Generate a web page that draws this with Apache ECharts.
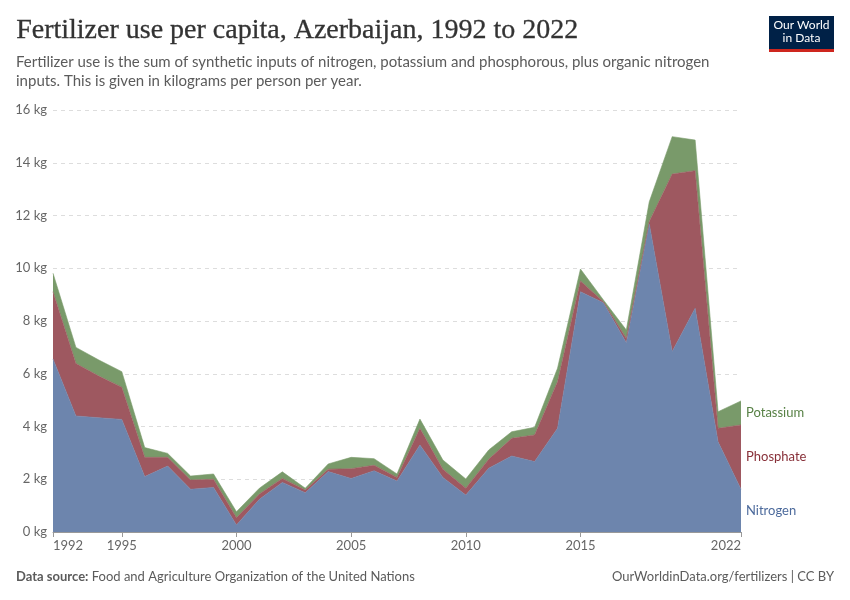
<!DOCTYPE html>
<html>
<head>
<meta charset="utf-8">
<script src="https://cdn.jsdelivr.net/npm/echarts@6/dist/echarts.min.js"></script>
<style>
  html, body { margin: 0; padding: 0; background: #fff; }
  #main { width: 850px; height: 600px; }
</style>
</head>
<body>
<div id="main"></div>
<script>
var years = [1992, 1993, 1994, 1995, 1996, 1997, 1998, 1999, 2000, 2001,
             2002, 2003, 2004, 2005, 2006, 2007, 2008, 2009, 2010, 2011,
             2012, 2013, 2014, 2015, 2016, 2017, 2018, 2019, 2020, 2021, 2022];
var nitrogen = [6.56, 4.40, 4.33, 4.27, 2.10, 2.50, 1.62, 1.69, 0.27, 1.24,
                1.88, 1.49, 2.29, 2.03, 2.32, 1.93, 3.30, 2.07, 1.40, 2.42,
                2.88, 2.67, 3.93, 9.11, 8.69, 7.18, 11.68, 6.84, 8.48, 3.42, 1.62];
var phosphate = [2.55, 1.99, 1.58, 1.22, 0.73, 0.33, 0.35, 0.31, 0.27, 0.20,
                 0.15, 0.10, 0.09, 0.37, 0.21, 0.14, 0.63, 0.31, 0.26, 0.34,
                 0.67, 1.01, 1.77, 0.41, 0.04, 0.16, 0.09, 6.73, 5.22, 0.51, 2.44];
var potassium = [0.70, 0.61, 0.61, 0.59, 0.37, 0.15, 0.15, 0.20, 0.23, 0.22,
                 0.25, 0.07, 0.20, 0.43, 0.25, 0.13, 0.35, 0.35, 0.35, 0.35,
                 0.25, 0.29, 0.51, 0.45, 0.07, 0.32, 0.75, 1.42, 1.16, 0.63, 0.91];
var xTicks = [1992, 1995, 2000, 2005, 2010, 2015, 2022];

var seriesDefs = [
  { name: 'Nitrogen', values: nitrogen, fill: '#6d85ad', text: '#4c6a9c' },
  { name: 'Phosphate', values: phosphate, fill: '#9e5860', text: '#883039' },
  { name: 'Potassium', values: potassium, fill: '#799a6a', text: '#578145' }
];

function showTick(i) {
  return xTicks.indexOf(years[i]) >= 0;
}

var myChart = echarts.init(document.getElementById('main'));

var option = {
  animation: false,
  textStyle: { fontFamily: 'Lato, sans-serif' },
  grid: { left: 53, right: 109, top: 110, bottom: 68 },
  xAxis: {
    type: 'category',
    data: years.map(String),
    boundaryGap: false,
    splitLine: { show: false },
    axisLine: { show: true, lineStyle: { color: '#999', width: 1 } },
    axisTick: { show: true, interval: showTick, length: 5, lineStyle: { color: '#999' } },
    axisLabel: {
      interval: showTick,
      color: '#666',
      fontSize: 13,
      margin: 7,
      alignMinLabel: 'left',
      alignMaxLabel: 'right'
    }
  },
  yAxis: {
    type: 'value',
    min: 0,
    max: 16,
    interval: 2,
    axisLine: { show: false },
    axisTick: { show: false },
    axisLabel: {
      color: '#666',
      fontSize: 13,
      margin: 6,
      formatter: '{value} kg'
    },
    splitLine: { lineStyle: { color: '#dddddd', type: [4, 4], width: 1 } }
  },
  series: seriesDefs.map(function (s) {
    return {
      name: s.name,
      type: 'line',
      stack: 'total',
      data: s.values,
      symbol: 'none',
      lineStyle: { width: 0.6, color: s.fill },
      areaStyle: { color: s.fill, opacity: 1 },
      itemStyle: { color: s.fill }
    };
  }),
  graphic: [
    {
      type: 'text', left: 16, top: 16,
      style: { text: 'Fertilizer use per capita, Azerbaijan, 1992 to 2022',
               font: '28px "Liberation Serif", serif', fill: '#333',
               stroke: '#333', lineWidth: 0.3 }
    },
    {
      type: 'text', left: 16, top: 53,
      style: { text: 'Fertilizer use is the sum of synthetic inputs of nitrogen, potassium and phosphorous, plus organic nitrogen\ninputs. This is given in kilograms per person per year.',
               font: '15px Lato, sans-serif', fill: '#5b5b5b', lineHeight: 19 }
    },
    {
      type: 'group', right: 16, top: 16,
      children: [
        { type: 'rect', shape: { x: 0, y: 0, width: 65, height: 33 }, style: { fill: '#002147' } },
        { type: 'rect', shape: { x: 0, y: 33, width: 65, height: 3 }, style: { fill: '#ce261e' } },
        { type: 'text', x: 32.5, y: 3,
          style: { text: 'Our World\nin Data', font: '12px Lato, sans-serif', fill: '#fff',
                   align: 'center', lineHeight: 13 } }
      ]
    },
    {
      type: 'text', left: 16, top: 570,
      style: {
        text: '{b|Data source:} Food and Agriculture Organization of the United Nations',
        rich: {
          b: { font: 'bold 13px Lato, sans-serif', fill: '#5b5b5b' }
        },
        font: '13px Lato, sans-serif', fill: '#5b5b5b'
      }
    },
    {
      type: 'text', right: 16, top: 570,
      style: { text: 'OurWorldinData.org/fertilizers | CC BY',
               font: '13px Lato, sans-serif', fill: '#5b5b5b' }
    }
  ]
};

myChart.setOption(option);

// end labels at the middle of each band in the last year
var last = years.length - 1;
var base = 0;
var labels = seriesDefs.map(function (s) {
  var mid = base + s.values[last] / 2;
  base += s.values[last];
  var p = myChart.convertToPixel({ gridIndex: 0 }, [last, mid]);
  return {
    type: 'text', x: p[0] + 5, y: p[1],
    style: { text: s.name, font: '13px Lato, sans-serif', fill: s.text, verticalAlign: 'middle' }
  };
});
myChart.setOption({ graphic: option.graphic.concat(labels) });
</script>
</body>
</html>
